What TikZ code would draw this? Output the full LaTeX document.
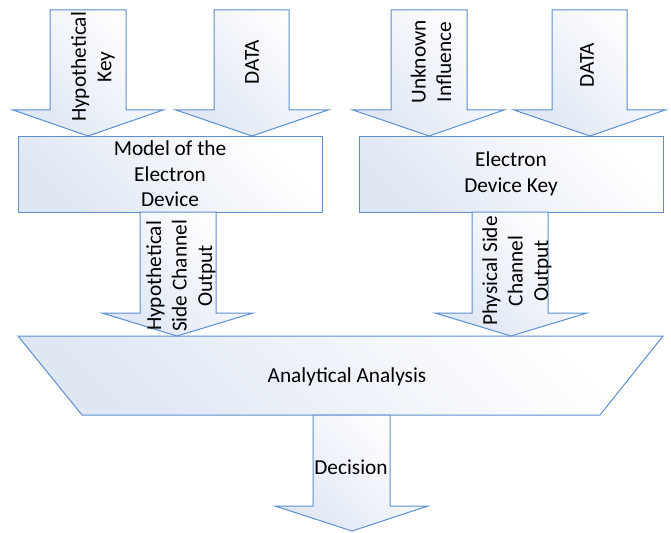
\documentclass[tikz,border=0pt]{standalone}
\usepackage{fontspec}
\setmainfont{Carlito}
\definecolor{edge}{HTML}{5B8FD0}
\definecolor{fillA}{HTML}{DFE7F4}
\begin{document}
\begin{tikzpicture}[x=1pt,y=-1pt,
  blockshape/.style={draw=edge,line width=1pt,line join=miter,shading=axis,left color=fillA,right color=white,shading angle=135},
  lbl/.style={font=\fontsize{21.3}{25.5}\selectfont,align=center,inner sep=0pt,text=black},
  vlbl/.style={lbl,rotate=90}]
\useasboundingbox (0,0) rectangle (671,532);
% boxes
\path[blockshape] (18,136) rectangle (322,212);
\path[blockshape] (359,136) rectangle (663,212);
\path[blockshape] (18,336) -- (663,336) -- (600,415) -- (82,415) -- cycle;
% top arrows
\path[blockshape] (50,10) -- (126,10) -- (126,110) -- (163,110) -- (88,136) -- (13,110) -- (50,110) -- cycle;
\path[blockshape] (214,10) -- (289,10) -- (289,110) -- (328,110) -- (252,136) -- (176,110) -- (214,110) -- cycle;
\path[blockshape] (391,10) -- (467,10) -- (467,110) -- (504,110) -- (429,136) -- (353,110) -- (391,110) -- cycle;
\path[blockshape] (552,10) -- (627,10) -- (627,110) -- (665,110) -- (590,136) -- (514,110) -- (552,110) -- cycle;
% lower arrows
\path[blockshape] (140,212) -- (216,212) -- (216,313) -- (253,313) -- (177,336) -- (102,313) -- (140,313) -- cycle;
\path[blockshape] (472,212) -- (548,212) -- (548,313) -- (587,313) -- (511,336) -- (435,313) -- (472,313) -- cycle;
\path[blockshape] (313,415) -- (390,415) -- (390,506) -- (428,506) -- (352,531) -- (275,506) -- (313,506) -- cycle;
% labels
\node[vlbl] (hk) at (93,67) {Hypothetical\\Key};
\node[vlbl] (d1) at (252,62) {DATA};
\node[vlbl] (ui) at (431,62) {Unknown\\Influence};
\node[vlbl] (d2) at (587,65) {DATA};
\node[lbl] (m) at (170,174) {Model of the\\Electron\\Device};
\node[lbl] (k) at (511,174) {Electron\\Device Key};
\node[vlbl] (hs) at (181,276) {Hypothetical\\Side Channel\\Output};
\node[vlbl] (ps) at (517,271) {Physical Side\\Channel\\Output};
\node[lbl] (aa) at (347,377) {Analytical Analysis};
\node[lbl] (dc) at (351,467) {Decision};
\end{tikzpicture}
\end{document}
